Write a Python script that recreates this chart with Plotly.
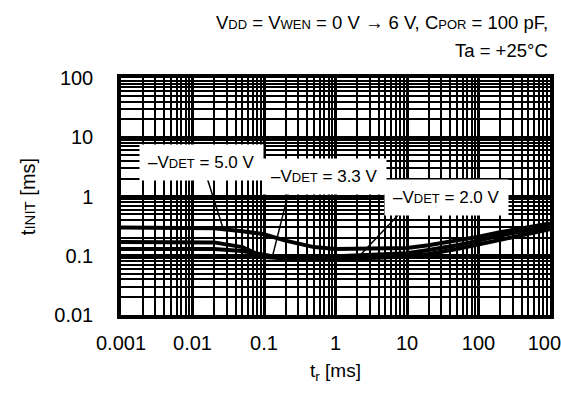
import plotly.graph_objects as go
import numpy as np

# ---- data ----
tr_ms = [0.001, 0.002, 0.005, 0.01, 0.02, 0.05, 0.1, 0.2, 0.5, 1, 2, 5, 10, 20, 50, 100, 200, 500, 1000]
tinit_5v0 = [0.30, 0.30, 0.30, 0.30, 0.29, 0.26, 0.23, 0.18, 0.14, 0.13, 0.13, 0.13, 0.135, 0.15, 0.18, 0.21, 0.25, 0.30, 0.35]
tinit_3v3 = [0.17, 0.17, 0.17, 0.17, 0.168, 0.14, 0.095, 0.09, 0.094, 0.097, 0.10, 0.105, 0.11, 0.125, 0.15, 0.18, 0.22, 0.27, 0.31]
tinit_2v0 = [0.13, 0.13, 0.13, 0.13, 0.13, 0.12, 0.105, 0.09, 0.088, 0.088, 0.09, 0.093, 0.098, 0.107, 0.13, 0.155, 0.19, 0.24, 0.28]

x_tickvals = [0.001, 0.01, 0.1, 1, 10, 100, 1000]
x_ticktext = ["0.001", "0.01", "0.1", "1", "10", "100", "1000"]
y_tickvals = [0.01, 0.1, 1, 10, 100]
y_ticktext = ["0.01", "0.1", "1", "10", "100"]

series = [
    ("5.0", tinit_5v0),
    ("3.3", tinit_3v3),
    ("2.0", tinit_2v0),
]
# label positions (log10 coords) and the tr value where each leader touches its curve
label_pos = {"5.0": (-1.88, 0.57), "3.3": (-0.15, 0.33), "2.0": (1.55, -0.02)}
leader_start = {"5.0": (-1.8, 0.33), "3.3": (-0.65, 0.10), "2.0": (0.95, -0.22)}
leader_hit = {"5.0": 0.027, "3.3": 0.13, "2.0": 2.0}

FONT = "Liberation Sans, Arial, sans-serif"

def small(s, px):
    return "<span style='font-size:%dpx'>%s</span>" % (px, s)

fig = go.Figure()
for name, vals in series:
    fig.add_trace(go.Scatter(x=tr_ms, y=vals, mode="lines",
                             line=dict(color="black", width=4), showlegend=False,
                             hoverinfo="skip"))

for name, vals in series:
    lx, ly = leader_start[name]
    hx = leader_hit[name]
    hy = float(10 ** np.interp(np.log10(hx), np.log10(tr_ms), np.log10(vals)))
    fig.add_trace(go.Scatter(x=[10 ** lx, hx], y=[10 ** ly, hy], mode="lines",
                             line=dict(color="black", width=1.5), showlegend=False,
                             hoverinfo="skip"))
    px, py = label_pos[name]
    fig.add_annotation(x=px, y=py, xref="x", yref="y", showarrow=False,
                       text="\u2013V" + small("DET", 13) + " = " + name + " V",
                       font=dict(family=FONT, size=17, color="black"),
                       bgcolor="white", borderpad=8)

grid_minor = dict(dtick="D1", showgrid=True, gridcolor="black", gridwidth=2.2, ticks="")

fig.update_xaxes(type="log", range=[-3, 3], tickvals=x_tickvals, ticktext=x_ticktext,
                 showgrid=True, gridcolor="black", gridwidth=3, automargin=False,
                 minor=grid_minor, showline=True, linecolor="black", linewidth=3.5, mirror=True,
                 ticks="", ticklabelstandoff=7, zeroline=False, ticklabeloverflow="allow",
                 tickfont=dict(family=FONT, size=20, color="black"),
                 title=dict(text="t<sub>r</sub> [ms]", font=dict(family=FONT, size=19, color="black"),
                            standoff=12))
fig.update_yaxes(type="log", range=[-2, 2], tickvals=y_tickvals, ticktext=y_ticktext,
                 showgrid=True, gridcolor="black", gridwidth=3, automargin=False,
                 minor=grid_minor, showline=True, linecolor="black", linewidth=3.5, mirror=True,
                 ticks="", ticklabelstandoff=20, zeroline=False,
                 tickfont=dict(family=FONT, size=20, color="black"),
                 title=dict(text="t" + small("INIT", 15) + " [ms]",
                            font=dict(family=FONT, size=20, color="black"), standoff=14))

fig.add_annotation(xref="paper", yref="paper", x=1.0, y=1.0, yshift=56, xanchor="right",
                   yanchor="middle", showarrow=False, align="right",
                   text="V" + small("DD", 13) + " = V" + small("WEN", 13) + " = 0 V \u2192 6 V, C"
                        + small("POR", 13) + " = 100 pF,",
                   font=dict(family=FONT, size=18.5, color="black"))
fig.add_annotation(xref="paper", yref="paper", x=1.0, y=1.0, yshift=28, xanchor="right",
                   yanchor="middle", showarrow=False, align="right",
                   text="Ta = +25\u00b0C",
                   font=dict(family=FONT, size=18.5, color="black"))

fig.update_layout(template="none", width=561, height=394,
                  margin=dict(l=121, r=11, t=78, b=79, autoexpand=False),
                  paper_bgcolor="white", plot_bgcolor="white", showlegend=False)

fig.write_html("out.html", config={"displayModeBar": False},
               post_script="document.body.style.margin='0';document.body.style.padding='0';")
